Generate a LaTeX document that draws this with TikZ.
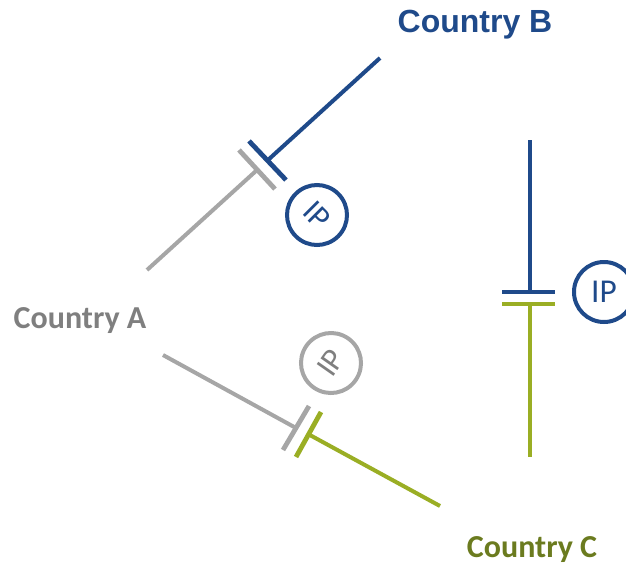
\documentclass[tikz,border=0pt]{standalone}
\usepackage{fontspec}
\setmainfont{Carlito}
\newfontfamily\arialfont{Liberation Sans}
\definecolor{bluec}{HTML}{1F4A8A}
\definecolor{grayc}{HTML}{A6A6A6}
\definecolor{graytext}{HTML}{7F7F7F}
\definecolor{olivec}{HTML}{9AAE24}
\definecolor{olivetext}{HTML}{6B7B1F}
\tikzset{
  link/.style={line width=3pt},
  bar/.style={line width=3.6pt},
  country/.style={inner sep=0pt, font=\bfseries\fontsize{24}{24}\selectfont},
  ipmark/.style={circle, draw, line width=3pt, minimum size=45pt, inner sep=0pt, font=\fontsize{24}{24}\selectfont}
}
\begin{document}
\begin{tikzpicture}[x=0.75pt,y=-0.75pt]
      \useasboundingbox (0,0) rectangle (626,565);
      \clip (0,0) rectangle (626,565);
      % countries
      \node[country, text=bluec, font=\arialfont\bfseries\fontsize{24}{24}\selectfont] (B) at (475,25) {Country B};
      \node[country, text=graytext] (A) at (80,321) {Country A};
      \node[country, text=olivetext] (C) at (532,550) {Country C};
      % line ends and bars
      \coordinate (b1) at (380,58);
      \coordinate (b2) at (268,160);
      \coordinate (bb1) at (249,141);
      \coordinate (bb2) at (286,180);
      \coordinate (a1) at (147,270);
      \coordinate (a2) at (257,170);
      \coordinate (ab1) at (239,150);
      \coordinate (ab2) at (275,189);
      \coordinate (a3) at (163,355);
      \coordinate (a4) at (296,428);
      \coordinate (ab3) at (283,450);
      \coordinate (ab4) at (309,406);
      \coordinate (c1) at (440,506);
      \coordinate (c2) at (308,434);
      \coordinate (cb1) at (296,457);
      \coordinate (cb2) at (321,412);
      \coordinate (v1) at (530,140);
      \coordinate (v2) at (530,292);
      \coordinate (vb1) at (502,292);
      \coordinate (vb2) at (555,292);
      \coordinate (v3) at (530,304);
      \coordinate (v4) at (530,457);
      \coordinate (vb3) at (502,304);
      \coordinate (vb4) at (555,304);
      % IP marks
      \node[ipmark, draw=bluec, text=bluec, rotate=-45] (ip1) at (317,215) {IP};
      \node[ipmark, draw=grayc, text=graytext, rotate=55] (ip2) at (331,363) {IP};
      \node[ipmark, draw=bluec, text=bluec, font=\fontsize{25}{25}\selectfont] (ip3) at (604,292) {IP};
      \begin{scope}[link]
        \draw[bluec] (b1) to (b2);
        \draw[grayc] (a1) to (a2);
        \draw[grayc] (a3) to (a4);
        \draw[olivec] (c1) to (c2);
        \draw[bluec] (v1) to (v2);
        \draw[olivec] (v3) to (v4);
      \end{scope}
      \begin{scope}[bar]
        \draw[bluec] (bb1) to (bb2);
        \draw[grayc] (ab1) to (ab2);
        \draw[grayc] (ab3) to (ab4);
        \draw[olivec] (cb1) to (cb2);
        \draw[bluec] (vb1) to (vb2);
        \draw[olivec] (vb3) to (vb4);
      \end{scope}
    \end{tikzpicture}
\end{document}
